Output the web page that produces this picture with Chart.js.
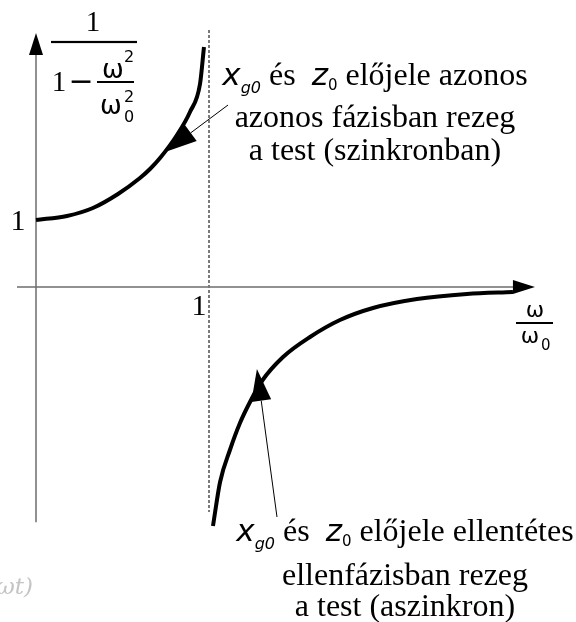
<!DOCTYPE html>
<html>
<head>
<meta charset="utf-8">
<script src="https://cdn.jsdelivr.net/npm/chart.js@4.4.0/dist/chart.umd.min.js"></script>
<style>
    html, body { margin: 0; padding: 0; background: #fff; }
</style>
</head>
<body>
<canvas id="resonanceChart" width="576" height="622"></canvas>
<script>
// ω/ω0 és az amplitúdó-tényező, a rezonancia alatti és feletti ág
const belowOmega = [0, 0.179, 0.329, 0.474, 0.601, 0.659, 0.717, 0.815, 0.890, 0.948, 0.971];
const belowAmp = [1.0, 1.060, 1.179, 1.388, 1.627, 1.761, 1.925, 2.269, 2.612, 3.030, 3.582];
const aboveOmega = [1.023, 1.064, 1.121, 1.179, 1.237, 1.306, 1.428, 1.584, 1.757, 1.948, 2.202, 2.491, 2.757];
const aboveAmp = [-3.567, -2.910, -2.433, -2.030, -1.716, -1.403, -1.045, -0.746, -0.493, -0.313, -0.179, -0.104, -0.075];
const xTicks = [1];
const yTicks = [1];

// tengelyek és a szaggatott függőleges vonal hossza (adategységben)
const xAxisFrom = -0.11, xAxisTo = 2.884;
const yAxisFrom = -3.51, yAxisTo = 3.79;
const resonanceFrom = -3.358, resonanceTo = 3.836;

// nyilak: [hegy, vég] pontpárok
const pointers = [
    {tip: [0.746, 2.015], tail: [1.110, 2.716]},
    {tip: [1.277, -1.224], tail: [1.393, -3.433]}
];

const SERIF = '"Liberation Serif", serif';
const SANS = '"DejaVu Sans", sans-serif';

function toPoints(xs, ys) {
    return xs.map((x, i) => ({x: x, y: ys[i]}));
}

function arrowHead(ctx, tx, ty, fx, fy, len, half) {
    const a = Math.atan2(ty - fy, tx - fx);
    const bx = tx - len * Math.cos(a), by = ty - len * Math.sin(a);
    ctx.beginPath();
    ctx.moveTo(tx, ty);
    ctx.lineTo(bx + half * Math.sin(a), by - half * Math.cos(a));
    ctx.lineTo(bx - half * Math.sin(a), by + half * Math.cos(a));
    ctx.closePath();
    ctx.fill();
    return [bx, by];
}

// több betűtípusú sor középre igazítva
function richLine(ctx, cx, baseline, parts) {
    let width = 0;
    parts.forEach(p => {
        ctx.font = p.font;
        p.w = ctx.measureText(p.t).width;
        width += p.w;
    });
    let x = cx - width / 2;
    ctx.textAlign = 'left';
    ctx.textBaseline = 'alphabetic';
    parts.forEach(p => {
        ctx.font = p.font;
        ctx.fillText(p.t, x, baseline + (p.dy || 0));
        x += p.w;
    });
}

function text(ctx, t, x, y, font, align) {
    ctx.font = font;
    ctx.textAlign = align || 'center';
    ctx.textBaseline = 'alphabetic';
    ctx.fillText(t, x, y);
}

function hline(ctx, x1, x2, y, w) {
    ctx.fillRect(x1, y - w / 2, x2 - x1, w);
}

const axesPlugin = {
    id: 'axesPlugin',
    beforeDatasetsDraw(chart) {
        const ctx = chart.ctx;
        const xs = chart.scales.x, ys = chart.scales.y;
        const x0 = xs.getPixelForValue(0), y0 = ys.getPixelForValue(0);
        ctx.save();
        ctx.strokeStyle = '#6e6e6e';
        ctx.lineWidth = 1.5;
        ctx.beginPath();
        ctx.moveTo(xs.getPixelForValue(xAxisFrom), y0);
        ctx.lineTo(xs.getPixelForValue(xAxisTo) - 20, y0);
        ctx.moveTo(x0, ys.getPixelForValue(yAxisFrom));
        ctx.lineTo(x0, ys.getPixelForValue(yAxisTo) + 20);
        ctx.stroke();

        // rezonancia: ω = ω0
        ctx.strokeStyle = '#7a7a7a';
        ctx.lineWidth = 2;
        ctx.setLineDash([3, 2]);
        const xr = Math.round(xs.getPixelForValue(1));
        ctx.beginPath();
        ctx.moveTo(xr, ys.getPixelForValue(resonanceTo));
        ctx.lineTo(xr, ys.getPixelForValue(resonanceFrom));
        ctx.stroke();
        ctx.restore();
    },
    afterDatasetsDraw(chart) {
        const ctx = chart.ctx;
        const xs = chart.scales.x, ys = chart.scales.y;
        const x0 = xs.getPixelForValue(0), y0 = ys.getPixelForValue(0);
        ctx.save();
        ctx.fillStyle = '#000';
        ctx.strokeStyle = '#000';

        // tengelyvégi nyilak
        arrowHead(ctx, xs.getPixelForValue(xAxisTo), y0, x0, y0, 22, 7);
        arrowHead(ctx, x0, ys.getPixelForValue(yAxisTo), x0, y0, 22, 7);

        // mutató nyilak a görbékre
        pointers.forEach(p => {
            const tx = xs.getPixelForValue(p.tip[0]), ty = ys.getPixelForValue(p.tip[1]);
            const fx = xs.getPixelForValue(p.tail[0]), fy = ys.getPixelForValue(p.tail[1]);
            const b = arrowHead(ctx, tx, ty, fx, fy, 32, 10);
            ctx.lineWidth = 1;
            ctx.beginPath();
            ctx.moveTo(b[0], b[1]);
            ctx.lineTo(fx, fy);
            ctx.stroke();
        });

        // osztásfeliratok
        xTicks.forEach(v => text(ctx, String(v), xs.getPixelForValue(v) - 10, y0 + 28, '30px ' + SERIF));
        yTicks.forEach(v => text(ctx, String(v), x0 - 18, ys.getPixelForValue(v) + 10, '30px ' + SERIF));

        // függőleges tengely felirata: 1 / (1 − ω²/ω0²)
        text(ctx, '1', 93, 31, '29px ' + SERIF);
        hline(ctx, 51, 137, 42, 2.2);
        text(ctx, '1', 59, 91, '29px ' + SERIF);
        text(ctx, '−', 81, 91, '30px ' + SANS);
        text(ctx, 'ω', 113, 78, '26px ' + SANS);
        text(ctx, '2', 124, 62, '16px ' + SANS, 'left');
        hline(ctx, 97, 134, 82, 2);
        text(ctx, 'ω', 111, 114, '26px ' + SANS);
        text(ctx, '2', 124, 102, '16px ' + SANS, 'left');
        text(ctx, '0', 124, 122, '16px ' + SANS, 'left');

        // vízszintes tengely felirata: ω/ω0
        text(ctx, 'ω', 535, 317, '22px ' + SANS);
        hline(ctx, 516, 553, 323, 2);
        text(ctx, 'ω', 530, 343, '22px ' + SANS);
        text(ctx, '0', 541, 350, '15px ' + SANS, 'left');

        // magyarázó szövegek
        const main = '32px ' + SERIF;
        const ital = 'oblique 31px ' + SANS;
        const sub = 'oblique 16px ' + SANS;
        const sub0 = '15px ' + SANS;
        richLine(ctx, 375, 85, [
            {t: 'x', font: ital},
            {t: 'g0', font: sub, dy: 8},
            {t: ' és  ', font: main},
            {t: 'z', font: ital},
            {t: '0', font: sub0, dy: 5},
            {t: ' előjele azonos', font: main}
        ]);
        richLine(ctx, 375, 127, [{t: 'azonos fázisban rezeg', font: main}]);
        richLine(ctx, 375, 160, [{t: 'a test (szinkronban)', font: main}]);

        richLine(ctx, 405, 541, [
            {t: 'x', font: ital},
            {t: 'g0', font: sub, dy: 8},
            {t: ' és  ', font: main},
            {t: 'z', font: ital},
            {t: '0', font: sub0, dy: 5},
            {t: ' előjele ellentétes', font: main}
        ]);
        richLine(ctx, 405, 585, [{t: 'ellenfázisban rezeg', font: main}]);
        richLine(ctx, 405, 616, [{t: 'a test (aszinkron)', font: main}]);

        // halvány szövegmaradvány a bal alsó sarokban
        ctx.fillStyle = '#c4c4c4';
        text(ctx, 'ωt)', -4, 594, 'italic 23px "DejaVu Serif", serif', 'left');
        ctx.restore();
    }
};

const curveStyle = {
    showLine: true,
    borderColor: '#000',
    borderWidth: 4,
    pointRadius: 0,
    fill: false,
    cubicInterpolationMode: 'monotone'
};

new Chart(document.getElementById('resonanceChart'), {
    type: 'scatter',
    data: {
        datasets: [
            Object.assign({label: 'ω < ω0', data: toPoints(belowOmega, belowAmp)}, curveStyle),
            Object.assign({label: 'ω > ω0', data: toPoints(aboveOmega, aboveAmp)}, curveStyle)
        ]
    },
    options: {
        responsive: false,
        animation: false,
        devicePixelRatio: 1,
        layout: {padding: 0},
        plugins: {legend: {display: false}, tooltip: {enabled: false}},
        scales: {
            x: {type: 'linear', display: false, min: -0.2081, max: 3.1214},
            y: {type: 'linear', display: false, min: -5.0, max: 4.2836}
        }
    },
    plugins: [axesPlugin]
});
</script>
</body>
</html>
